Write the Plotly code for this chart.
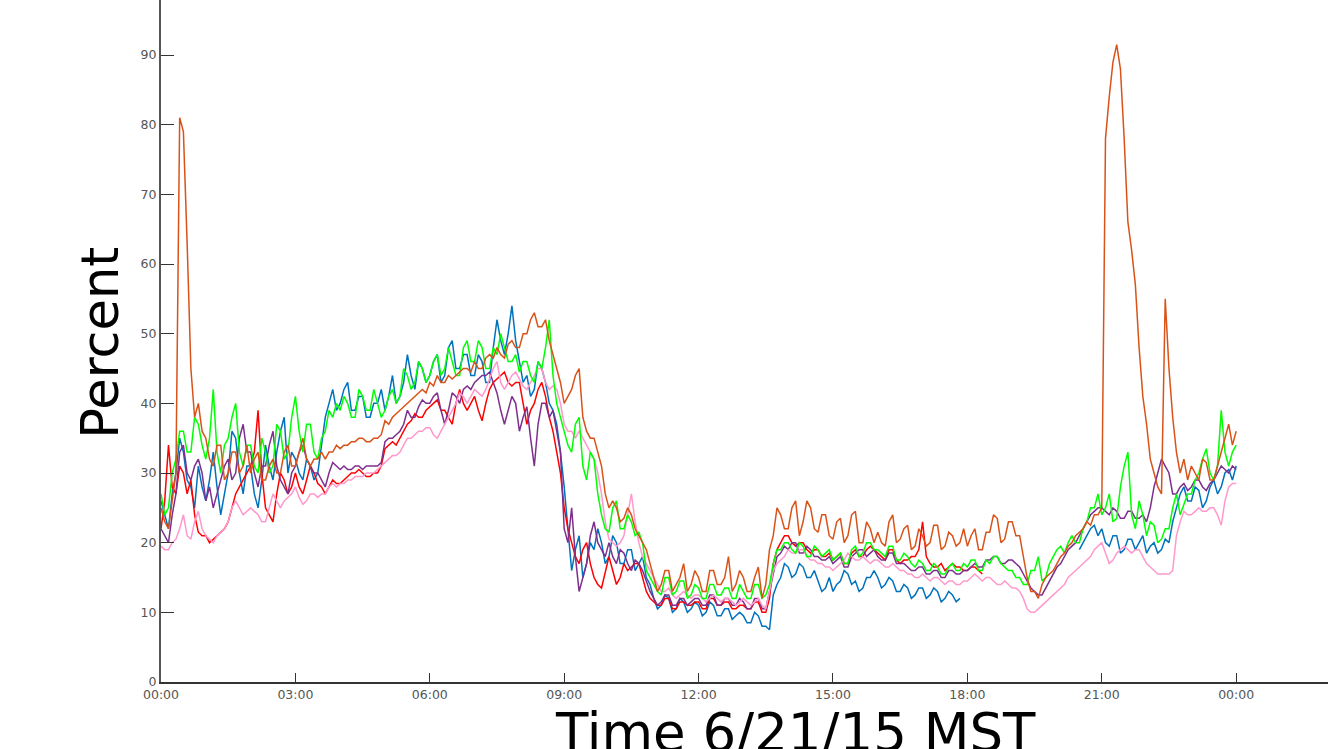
import pandas as pd
import plotly.graph_objects as go

# 5-minute samples across the day, 00:00 on 6/21 through 00:00 on 6/22
times = pd.date_range("2015-06-21 00:00", "2015-06-22 00:00", freq="5min")

N = None  # no reading

# one row per hour, 12 samples each; final value is 00:00 the next day
blue = [
    26, 24, 22, 27, 30, 35, 33, 29, 28, 25, 31, 28,
    26, 29, 33, 28, 24, 27, 30, 36, 35, 30, 27, 31,
    31, 27, 25, 29, 34, 31, 29, 33, 36, 38, 30, 33,
    32, 30, 29, 32, 31, 29, 30, 34, 38, 40, 42, 39,
    40, 42, 43, 39, 39, 41, 41, 38, 38, 40, 40, 42,
    39, 41, 44, 40, 41, 43, 47, 44, 42, 46, 45, 43,
    44, 46, 47, 43, 44, 48, 49, 45, 45, 47, 47, 44,
    44, 47, 46, 43, 43, 48, 52, 49, 47, 50, 54, 49,
    46, 43, 44, 41, 42, 46, 45, 43, 40, 39, 37, 33,
    28, 22, 16, 19, 21, 15, 17, 20, 19, 22, 20, 17,
    18, 21, 20, 17, 17, 19, 19, 16, 17, 18, 15, 14,
    12, 10.5, 11, 12.5, 12, 10, 10.5, 12, 11.5, 10, 10.5, 11.5,
    11, 9.5, 10, 11.5, 11, 9.5, 9.5, 10.5, 10.5, 9, 9.5, 10,
    9.5, 8.5, 8.5, 10, 9.5, 8, 8, 7.5, 12.5, 14, 15, 17,
    16.5, 15, 15.5, 17, 16.5, 15, 15, 16, 14.5, 13, 13.5, 15,
    13, 14, 14.5, 16, 15.5, 14, 14.5, 13, 13.5, 15, 15, 16,
    15, 13.5, 14, 15, 14.5, 13, 13, 14, 13.5, 12, 12.5, 13.5,
    13.5, 12, 12.5, 13.5, 13, 11.5, 12, 13, 12.5, 11.5, 12, N,
    N, N, N, N, N, N, N, N, N, N, N, N,
    N, N, N, N, N, N, N, N, N, N, N, N,
    N, N, N, N, N, N, 19, 20, 21, 22, 22.5, 21,
    22, 20, 19.5, 21, 21, 18.5, 19, 20.5, 20.5, 19, 20, 21,
    18.5, 19.5, 20, 18.5, 19, 20.5, 20, 23, 25, 27, 28, 26,
    26, 28, 27.5, 25, 26, 28, 29, 27, 28, 30, 30.5, 29,
    31,
]

orange = [
    25, 23, 22, 26, 30, 81, 79, 63, 45, 38, 40, 36,
    35, 32, 31, 34, 34, 29, 30, 33, 33, 30, 31, 34,
    30, 32, 33, 29, 29, 31, 32, 30, 30, 33, 34, 31,
    31, 33, 35, 32, 31, 32, 32, 33, 32, 33, 33, 34,
    33.5, 34, 34, 34.5, 34.5, 35, 35, 34.5, 34.5, 35, 35, 35.5,
    37.5, 37, 38, 38.5, 39, 39.5, 40, 40.5, 41, 41.5, 42, 41.5,
    43, 42.5, 44, 43, 43, 44, 43.5, 44, 44.5, 45, 45, 44.5,
    46, 45, 45, 46.5, 47, 46.5, 48, 47, 46.5, 48.5, 49, 48,
    48, 50, 50, 52, 53, 51, 51, 52, 49, 47, 45, 43,
    40, 41, 42, 44, 45, 38, 36, 35, 35, 33, 31, 27,
    25, 26, 25, 23, 23.5, 25, 24, 22, 21, 20, 19, 17,
    15, 13, 14, 16, 16, 13, 14, 15, 17, 13, 14, 16,
    15, 13, 13, 16, 16, 14, 14, 15, 18, 13, 14, 16,
    15, 13, 13, 15, 16.5, 12, 14, 19, 21, 25, 24, 22,
    22, 25, 26, 21, 23, 26, 25, 22, 21.5, 24, 24, 21,
    20.5, 23, 23.5, 20, 21, 24, 24.5, 20, 20, 23, 22, 20,
    21.5, 20, 19.5, 23, 24, 20, 20.5, 22, 22.5, 19, 19.5, 22,
    21, 19.5, 20, 22.5, 22.5, 19, 19.5, 21.5, 21, 19.5, 20, 22,
    19.5, 21, 22, 19, 19, 21.5, 21.5, 24, 23.5, 20, 20.5, 23,
    23, 21, 21, 18, 15, 13, 13, 12, 14, 15, 15.5, 16,
    17, 18, 18.5, 19.5, 20, 21, 21.5, 22, 23, 22.5, 24, 24,
    25, 78, 84, 89, 91.5, 88, 78, 66, 62, 57, 48, 41,
    37, 32, 30, 28, 27, 55, 45, 38, 33, 30, 32, 29,
    31, 30, 29, 32, 31.5, 29, 29, 31, 33, 35, 37, 34,
    36,
]

green = [
    27, 24, 25, 30, 32, 36, 36, 33, 33, 38, 37, 34,
    32, 35, 42, 33, 30, 34, 35, 38, 40, 33, 31, 34,
    34, 31, 30, 35, 33, 30, 31, 37, 36, 32, 33, 38,
    41, 36, 33, 37, 37, 33, 32, 35, 36, 39, 38, 40,
    39, 41, 40, 38, 38, 42, 41, 39, 39, 42, 40, 38,
    39, 41, 42, 40, 41, 45, 44, 42, 43, 46, 45, 43,
    44, 46, 47, 44, 45, 48, 46, 44, 44, 48, 49, 46,
    46, 49, 48, 45, 45, 48, 47, 50, 48, 46, 46, 47,
    44.5, 46, 46, 44, 43, 46, 45, 48, 52, 44, 40, 38,
    36, 34, 33, 37, 38, 31, 29, 33, 32, 27, 24, 22,
    21.5, 25, 26, 22, 22, 24, 23, 21, 21.5, 20, 16, 15,
    14, 13, 12.5, 15, 15, 12.5, 13, 14.5, 14.5, 12, 12.5, 14,
    13.5, 12, 12, 14, 14, 12.5, 12.5, 13.5, 13.5, 12, 12, 14,
    13, 12, 12, 14, 14, 12, 12.5, 14, 17, 19, 19, 20,
    20, 19, 18.5, 20, 19.5, 18, 18, 19.5, 19, 18, 18.5, 19,
    17.5, 18, 18.5, 17, 17, 19, 19.5, 18, 18.5, 20, 20, 19,
    19, 18.5, 18, 19.5, 19.5, 17.5, 17.5, 18.5, 18, 17, 16.5, 17.5,
    17, 16, 16, 17, 16.5, 15.5, 15.5, 16.5, 17, 16, 16, 17,
    16.5, 17.5, 17.5, 16, 16, 17.5, 17, 18, 18, 17, 16.5, 16,
    16, 15, 15, 14, 14, 16, 16, 18, 14.5, 15, 17, 18,
    19, 19.5, 18.5, 20, 21, 20, 20, 22, 23, 25, 25, 27,
    24, 25, 27, 23, 23.5, 28, 31, 33, 24, 22, 26, 24,
    21, 23, 22.5, 20, 20.5, 22, 22, 25, 27, 24, 25.5, 27,
    27, 29, 30, 32, 33.5, 30, 29, 31, 39, 33, 31, 33,
    34,
]

purple = [
    22, 21, 20, 24, 27, 33, 34, 30, 29, 31, 32, 30,
    26, 28, 25, 27, 29, 31, 32, 29, 30, 35, 37, 33,
    33, 30, 28, 31, 31, 34, 36, 31, 29, 28, 27, 30,
    31, 33, 34, 32, 31, 30, 30, 29, 28, 30, 31.5, 31,
    30.5, 31, 30.5, 30.5, 31, 31, 30.5, 31, 31, 31, 31, 31.5,
    34.5, 35, 35, 35.5, 36, 37, 39, 38, 38, 39.5, 40.5, 40,
    40, 41, 41.5, 39, 37, 39, 41.5, 41, 40, 42, 42.5, 42,
    43, 43.5, 44, 44, 44.5, 43, 41.5, 39, 37, 39, 41, 40,
    36, 38, 39.5, 35, 31, 37, 40, 40, 38, 39, 36, 33,
    22, 20, 25, 18, 13, 15, 17, 21, 23, 20, 19, 18,
    20, 18, 17, 19, 18.5, 17, 16, 17.5, 17, 16, 14.5, 13,
    12, 11, 11.5, 12.5, 12.5, 11, 11, 12, 12, 11, 11.5, 12,
    12, 11, 11, 12.5, 12.5, 11, 11, 12, 12, 11, 11, 12,
    11.5, 10.5, 10.5, 12, 12, 10.5, 10.5, 13, 16, 18, 18.5, 19.5,
    19, 20, 20, 18.5, 18.5, 19.5, 19, 18, 18, 17.5, 17.5, 18,
    17, 17.5, 18, 16.5, 16.5, 18, 18.5, 19, 19, 18, 18.5, 19,
    18, 17.5, 17.5, 18.5, 18.5, 17, 17, 17, 16.5, 16, 16, 16.5,
    16.5, 15.5, 15.5, 16, 16, 15, 15, 16, 16, 15.5, 15.5, 16,
    16, 16.5, 17, 16.5, 16.5, 17.5, 17.5, 18, 18, 17, 17, 17.5,
    17.5, 17, 16.5, 15.5, 14.5, 13.5, 13, 12.5, 12.5, 13.5, 14.5, 15.5,
    16.5, 17, 18, 19, 19.5, 20, 21, 22, 23, 24, 24.5, 25,
    25, 24.5, 24, 25, 24.5, 23.5, 23.5, 24.5, 24.5, 23.5, 23.5, 24,
    23, 25, 28, 30, 32, 31, 30, 27, 27, 28, 28.5, 27.5,
    28, 29, 29, 28, 27.5, 28.5, 29, 30, 31, 30.5, 30, 31,
    30.5,
]

red = [
    22, 26, 34, 28, 27, 31, 30, 27, 29, 24, 21.5, 21,
    21, 20, 20.5, 21, 21.5, 22, 23, 25, 27, 28, 29, 30,
    31, 33, 39, 30, 25, 24, 23, 27, 30, 29, 27, 28,
    30, 28, 27, 29, 31, 30, 28.5, 28, 27, 28, 29, 28.5,
    28.5, 29, 29.5, 30, 30, 30.5, 30, 29.5, 29.5, 30, 30, 31,
    33.5, 34, 34.5, 34, 35, 36, 37, 37.5, 38.5, 38, 38, 39,
    39.5, 40, 40.5, 39, 39, 38, 37, 40, 42, 40, 39, 40,
    41, 39, 37.5, 40, 42, 43, 43.5, 44, 44.5, 43, 42.5, 43,
    43, 40, 37, 39, 40, 42, 43, 41, 38, 36, 33, 30,
    25, 22, 20, 18, 17, 19, 20, 17, 15, 14, 13.5, 16,
    18, 16, 14, 15, 17, 16, 16.5, 17, 17, 15, 13, 12,
    11.5, 11, 11, 12, 12, 10.5, 10.5, 11.5, 11.5, 11, 11, 11.5,
    11.5, 10.5, 10.5, 12, 12, 11, 11, 11.5, 11.5, 10.5, 10.5, 11,
    11, 10.5, 10.5, 11.5, 11.5, 10, 10, 12, 17, 19, 20, 21,
    21, 20, 19.5, 20, 20, 19, 18.5, 19, 19, 18, 18, 18.5,
    17.5, 18, 18.5, 17, 17, 18.5, 19, 18, 18, 19, 19.5, 19,
    18.5, 18, 17.5, 19, 19, 17.5, 17, 17.5, 17.5, 18, 18, 19,
    23, 18, 17, 16.5, 16.5, 17, 16, 16.5, 17, 16.5, 16.5, 16,
    16, 16.5, 16.5, 16, 15.5, N, N, N, N, N, N, N,
    N, N, N, N, N, N, N, N, N, N, N, N,
    N, N, N, N, N, N, N, N, N, N, N, N,
    N, N, N, N, N, N, N, N, N, N, N, N,
    N, N, N, N, N, N, N, N, N, N, N, N,
    N, N, N, N, N, N, N, N, N, N, N, N,
    N,
]

pink = [
    19.5, 19, 19, 20, 20.5, 22, 24, 21, 20.5, 23, 24.5, 22,
    21, 20.5, 20, 21, 21.5, 22, 23, 25, 26, 25, 24, 24.5,
    25, 24.5, 24, 23, 23, 25, 27, 26, 25, 26, 26.5, 27,
    28, 26.5, 25.5, 26, 27, 27, 26.5, 27, 27, 28, 28.5, 28,
    28.5, 28.5, 29, 29, 29.5, 29.5, 29.5, 30, 30, 30, 30.5, 31,
    31.5, 32, 32.5, 32.5, 33, 34, 35, 35, 35.5, 36, 36, 36.5,
    36.5, 35.5, 35, 36, 37, 38, 39, 40, 41.5, 41, 40, 41,
    42, 41.5, 41, 42, 43.5, 45, 46, 43, 42, 43, 44, 44.5,
    43.5, 42.5, 42, 43, 44, 45, 45, 43, 42, 42.5, 42, 40,
    37, 36, 36, 35, 36, 35, 34, 33, 32, 30, 27, 23,
    20.5, 20, 19.5, 20, 21, 24, 27, 23, 20, 18, 17, 16,
    15, 14, 13, 13, 13.5, 12.5, 12, 12.5, 13, 12.5, 12, 12.5,
    12.5, 12, 11.5, 12, 12.5, 12, 11.5, 12, 12, 11.5, 11, 11.5,
    12, 11.5, 11, 11.5, 12, 11, 10.5, 13, 16, 17, 17.5, 18,
    19, 18.5, 18.5, 19, 19, 18, 17.5, 17.5, 17, 17, 16.5, 16.5,
    16, 16.5, 17, 17.5, 18.5, 18, 17.5, 17.5, 18, 17.5, 17, 17.5,
    17.5, 17, 16.5, 16.5, 17, 16.5, 16, 16, 15.5, 15.5, 15, 15,
    15.5, 15, 14.5, 15, 15, 14.5, 14, 14.5, 14.5, 14, 14, 14.5,
    14.5, 15, 15.5, 15, 14.5, 15, 15, 14.5, 14, 14, 14.5, 14,
    13.5, 13.5, 13, 12, 10.5, 10, 10, 10.5, 11, 11.5, 12, 12.5,
    13, 13.5, 14, 15, 15.5, 16, 16.5, 17, 17.5, 18, 19, 19.5,
    20, 18.5, 17, 17.5, 18.5, 19, 19.5, 19, 18.5, 19, 19, 18,
    17, 16.5, 16, 15.5, 15.5, 15.5, 15.5, 16, 21, 23, 24.5, 24,
    24, 24.5, 25, 24.5, 24.5, 25, 25, 24, 22.5, 26, 28, 28.5,
    28.5,
]

# drawn bottom to top
series = [
    (blue, "#0072BD"),
    (red, "#FF0000"),
    (purple, "#7E2F8E"),
    (pink, "#FF99CC"),
    (green, "#00FF00"),
    (orange, "#D95319"),
]

fig = go.Figure()
for values, color in series:
    assert len(values) == len(times), len(values)
    fig.add_trace(go.Scatter(
        x=times, y=values, mode="lines",
        line=dict(color=color, width=1.5),
        connectgaps=False, hoverinfo="skip",
    ))

tick_font = dict(family="DejaVu Sans", size=12.5, color="#555555")

fig.update_layout(
    width=1330, height=749,
    margin=dict(l=161, r=2, t=0, b=67),
    paper_bgcolor="white", plot_bgcolor="white",
    showlegend=False,
    xaxis=dict(
        type="date",
        range=["2015-06-21 00:00", "2015-06-22 02:03"],
        tick0="2015-06-21 00:00", dtick=3 * 3600 * 1000,
        tickformat="%H:%M",
        ticks="inside", ticklen=9, tickwidth=1, tickcolor="#333333",
        showline=True, linecolor="#333333", linewidth=1.5,
        showgrid=False, zeroline=False,
        tickfont=tick_font,
    ),
    yaxis=dict(
        range=[0, 97.9], dtick=10, tick0=0,
        ticks="inside", ticklen=13, tickwidth=1, tickcolor="#333333",
        showline=True, linecolor="#555555", linewidth=2,
        showgrid=False, zeroline=False,
        tickfont=tick_font,
    ),
    annotations=[
        dict(text="Percent", xref="paper", yref="paper",
             x=-0.052, y=0.498, xanchor="center", yanchor="middle",
             textangle=-90, showarrow=False,
             font=dict(family="DejaVu Sans", size=51, color="black")),
        dict(text="Time 6/21/15 MST", xref="paper", yref="paper",
             x=0.5433, y=-0.026, xanchor="center", yanchor="top",
             showarrow=False,
             font=dict(family="DejaVu Sans", size=53, color="black")),
    ],
)

fig.write_html("out.html", config={"displayModeBar": False})
